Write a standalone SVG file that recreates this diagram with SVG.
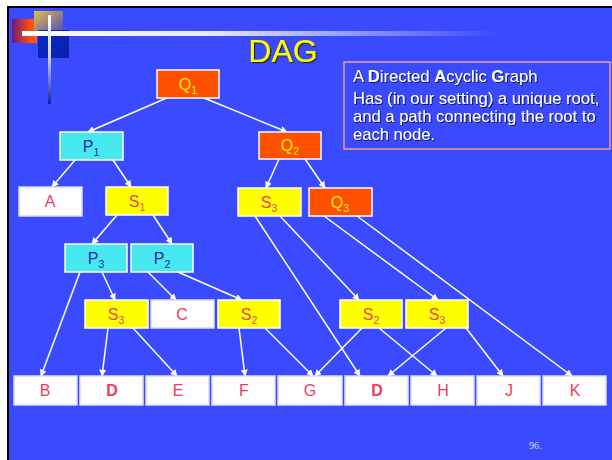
<svg xmlns="http://www.w3.org/2000/svg" width="612" height="460" viewBox="0 0 612 460">
<defs>
<style>
.n rect{stroke:#ffffff;stroke-width:1.5}
.q rect{fill:#ff5000}
.p rect{fill:#48e8f0}
.s rect{fill:#ffff00}
.w rect{fill:#ffffff;stroke:#d8dcff}
.n text{font-family:"Liberation Sans",Arial,sans-serif;font-size:16px;text-anchor:middle}
.q text{fill:#ffee00}
.p text{fill:#1a2a9c}
.s text{fill:#f0406a}
.w text{fill:#ea3c60}
.b{font-weight:bold}
.sub{font-size:10.5px}
#edges line{stroke:#ffffff;stroke-width:1.5;marker-end:url(#ah)}
.desc{font-family:"Liberation Sans",Arial,sans-serif;font-size:16.6px;fill:#ffffff;filter:url(#sh)}
</style>
<marker id="ah" viewBox="0 0 10 10" refX="9" refY="5" markerWidth="7" markerHeight="7" markerUnits="userSpaceOnUse" orient="auto">
<path d="M0,0 L10,5 L0,10 z" fill="#ffffff"/>
</marker>
<filter id="sh" x="-5%" y="-20%" width="110%" height="140%">
<feDropShadow dx="1" dy="1" stdDeviation="0.3" flood-color="#101040" flood-opacity="0.9"/>
</filter>
<filter id="tsh" x="-10%" y="-20%" width="120%" height="140%">
<feDropShadow dx="1.2" dy="1.2" stdDeviation="0.3" flood-color="#202020" flood-opacity="1"/>
</filter>
<linearGradient id="gh" x1="0" y1="0" x2="1" y2="0">
<stop offset="0" stop-color="#ffffff"/>
<stop offset="0.4" stop-color="#e6e8ff"/>
<stop offset="1" stop-color="#3a4afe"/>
</linearGradient>
<linearGradient id="gv" x1="0" y1="0" x2="0" y2="1">
<stop offset="0" stop-color="#ffffff"/>
<stop offset="0.5" stop-color="#c8ccf8"/>
<stop offset="1" stop-color="#1020a0"/>
</linearGradient>
<linearGradient id="gr" x1="0" y1="0" x2="1" y2="0">
<stop offset="0" stop-color="#6a1a7a"/>
<stop offset="0.7" stop-color="#ff4a10"/>
<stop offset="1" stop-color="#ff5a10"/>
</linearGradient>
<linearGradient id="gg" x1="0" y1="0" x2="1" y2="1">
<stop offset="0" stop-color="#e8c040"/>
<stop offset="1" stop-color="#4a48c8"/>
</linearGradient>
<linearGradient id="gb" x1="0" y1="0" x2="1" y2="1">
<stop offset="0" stop-color="#0a2ac8"/>
<stop offset="1" stop-color="#0820a8"/>
</linearGradient>
</defs>
<rect x="0" y="0" width="612" height="460" fill="#ffffff"/>
<rect x="7" y="6" width="605" height="454" fill="#000000"/>
<rect x="9" y="8" width="603" height="452" fill="#3a4afe"/>
<g id="decoration">
<rect x="12" y="19" width="25" height="24" fill="url(#gr)"/>
<rect x="34" y="11" width="29" height="22" fill="url(#gg)"/>
<rect x="38" y="30" width="31" height="28" fill="url(#gb)"/>
<rect x="22" y="31" width="476" height="5" fill="url(#gh)"/>
<rect x="48" y="15" width="3" height="89" fill="url(#gv)"/>
</g>
<text x="283" y="62" text-anchor="middle" font-family="Liberation Sans,Arial,sans-serif" font-size="32" fill="#ffff00" filter="url(#tsh)">DAG</text>
<g id="description">
<rect x="344" y="62" width="266" height="87" fill="none" stroke="#f4a080" stroke-width="1.5"/>
<text class="desc" x="353" y="82">A <tspan font-weight="bold">D</tspan>irected <tspan font-weight="bold">A</tspan>cyclic <tspan font-weight="bold">G</tspan>raph</text>
<text class="desc" x="353" y="104">Has (in our setting) a unique root,</text>
<text class="desc" x="353" y="122">and a path connecting the root to</text>
<text class="desc" x="353" y="140">each node.</text>
</g>
<g id="edges">
<line x1="169" y1="97" x2="88" y2="132"/>
<line x1="204" y1="98" x2="287" y2="132"/>
<line x1="75" y1="160" x2="52" y2="187"/>
<line x1="113" y1="160" x2="131" y2="187"/>
<line x1="117" y1="215" x2="92" y2="244"/>
<line x1="153" y1="215" x2="172" y2="244"/>
<line x1="279" y1="159" x2="266" y2="188"/>
<line x1="305" y1="159" x2="325" y2="188"/>
<line x1="255" y1="216" x2="360" y2="376"/>
<line x1="280" y1="216" x2="359" y2="300"/>
<line x1="324" y1="216" x2="438" y2="300"/>
<line x1="357" y1="216" x2="572" y2="376"/>
<line x1="80" y1="272" x2="41" y2="376"/>
<line x1="102" y1="272" x2="115" y2="300"/>
<line x1="148" y1="272" x2="176" y2="300"/>
<line x1="178" y1="272" x2="242" y2="300"/>
<line x1="108" y1="328" x2="102" y2="376"/>
<line x1="133" y1="328" x2="177" y2="376"/>
<line x1="239" y1="328" x2="245" y2="376"/>
<line x1="265" y1="328" x2="313" y2="376"/>
<line x1="362" y1="328" x2="315" y2="376"/>
<line x1="379" y1="328" x2="437" y2="376"/>
<line x1="446" y1="328" x2="388" y2="376"/>
<line x1="466" y1="328" x2="503" y2="376"/>
</g>
<g id="Q1" class="n q"><rect x="157" y="70" width="62" height="28"/><text x="188" y="90">Q<tspan class="sub" dy="4">1</tspan></text></g>
<g id="P1" class="n p"><rect x="60" y="132" width="63" height="28"/><text x="91" y="152">P<tspan class="sub" dy="4">1</tspan></text></g>
<g id="Q2" class="n q"><rect x="259" y="132" width="62" height="27"/><text x="290" y="151">Q<tspan class="sub" dy="4">2</tspan></text></g>
<g id="A" class="n w"><rect x="19" y="187" width="63" height="29"/><text x="50" y="207">A</text></g>
<g id="S1" class="n s"><rect x="106" y="187" width="62" height="28"/><text x="137" y="207">S<tspan class="sub" dy="4">1</tspan></text></g>
<g id="S3a" class="n s"><rect x="238" y="188" width="63" height="28"/><text x="269" y="208">S<tspan class="sub" dy="4">3</tspan></text></g>
<g id="Q3" class="n q"><rect x="309" y="188" width="63" height="28"/><text x="340" y="208">Q<tspan class="sub" dy="4">3</tspan></text></g>
<g id="P3" class="n p"><rect x="65" y="244" width="62" height="28"/><text x="96" y="264">P<tspan class="sub" dy="4">3</tspan></text></g>
<g id="P2" class="n p"><rect x="131" y="244" width="62" height="28"/><text x="162" y="264">P<tspan class="sub" dy="4">2</tspan></text></g>
<g id="S3b" class="n s"><rect x="85" y="300" width="63" height="28"/><text x="116" y="320">S<tspan class="sub" dy="4">3</tspan></text></g>
<g id="C" class="n w"><rect x="151" y="300" width="63" height="28"/><text x="182" y="320">C</text></g>
<g id="S2a" class="n s"><rect x="218" y="300" width="62" height="28"/><text x="249" y="320">S<tspan class="sub" dy="4">2</tspan></text></g>
<g id="S2b" class="n s"><rect x="340" y="300" width="62" height="28"/><text x="371" y="320">S<tspan class="sub" dy="4">2</tspan></text></g>
<g id="S3c" class="n s"><rect x="406" y="300" width="62" height="28"/><text x="437" y="320">S<tspan class="sub" dy="4">3</tspan></text></g>
<g id="B" class="n w"><rect x="14" y="376" width="63" height="29"/><text x="45" y="396">B</text></g>
<g id="D1" class="n w"><rect x="80" y="376" width="63" height="29"/><text class="b" x="112" y="396">D</text></g>
<g id="E" class="n w"><rect x="146" y="376" width="63" height="29"/><text x="178" y="396">E</text></g>
<g id="F" class="n w"><rect x="212" y="376" width="63" height="29"/><text x="244" y="396">F</text></g>
<g id="G" class="n w"><rect x="278" y="376" width="64" height="29"/><text x="310" y="396">G</text></g>
<g id="D2" class="n w"><rect x="345" y="376" width="63" height="29"/><text class="b" x="377" y="396">D</text></g>
<g id="H" class="n w"><rect x="411" y="376" width="63" height="29"/><text x="443" y="396">H</text></g>
<g id="J" class="n w"><rect x="477" y="376" width="63" height="29"/><text x="509" y="396">J</text></g>
<g id="K" class="n w"><rect x="543" y="376" width="63" height="29"/><text x="575" y="396">K</text></g>
<text x="529" y="449" font-family="Liberation Serif,Times New Roman,serif" font-size="10" fill="#d8dcff">96.</text>
</svg>
